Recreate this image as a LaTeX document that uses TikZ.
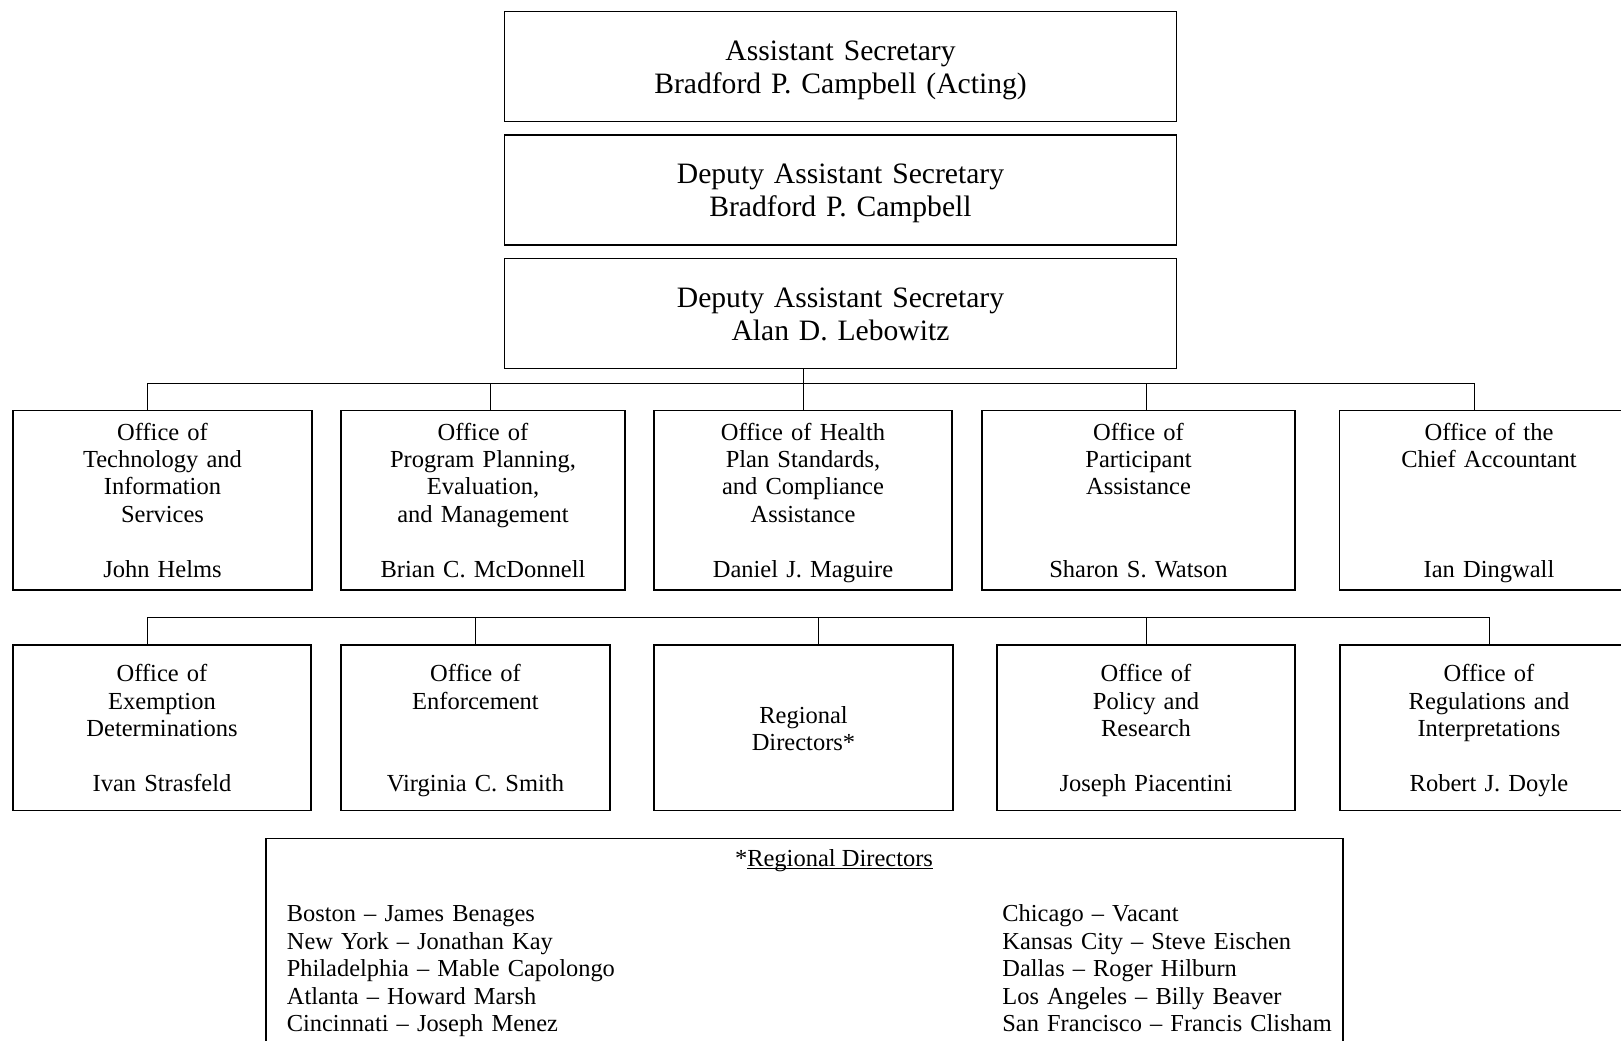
\documentclass[tikz,border=0pt]{standalone}
\usepackage{fontspec}
\setmainfont{Liberation Serif}
\usetikzlibrary{positioning}
\tikzset{
  execbox/.style={draw,line width=0.7pt,inner sep=0pt,outer sep=0pt,
    align=center,text width=336pt,text height=24.4pt,text depth=30.6pt,
    font=\fontsize{14.8pt}{16.35pt}\selectfont},
  officebox/.style={draw,line width=0.7pt,inner sep=0pt,outer sep=0pt,
    align=center,text height=14.65pt,text depth=75pt,
    font=\fontsize{12.25pt}{13.7pt}\selectfont},
  lowbox/.style={officebox,text height=18.35pt,text depth=64.5pt},
  bus/.style={line width=0.5pt},
  notebox/.style={draw,line width=0.7pt,inner sep=0pt,outer sep=0pt,
    minimum width=538.4pt,minimum height=130pt},
  notehead/.style={inner sep=0pt,font=\fontsize{12.25pt}{13.7pt}\selectfont},
  notelist/.style={inner sep=0pt,align=left,text width=200pt,
    font=\fontsize{12.2pt}{13.75pt}\selectfont},
}
\begin{document}
\begin{tikzpicture}[x=0.5pt,y=-0.5pt]
  \useasboundingbox (0,0) rectangle (1621,1040);
  \clip (0,0) rectangle (1621,1040);
  \node[execbox,anchor=north] (sec) at (840.5,11.7)
    {Assistant Secretary\\Bradford P. Campbell (Acting)};
  \node[execbox,below=6.7pt of sec] (dep1)
    {Deputy Assistant Secretary\\Bradford P. Campbell};
  \node[execbox,below=6.8pt of dep1] (dep2)
    {Deputy Assistant Secretary\\Alan D. Lebowitz};

  \node[officebox,text width=149.5pt,anchor=north west] (tis) at (13,410.7)
    {Office of\\Technology and\\Information\\Services\\[\baselineskip]John Helms};
  \node[officebox,text width=142pt,right=14.5pt of tis] (ppe)
    {Office of\\Program Planning,\\Evaluation,\\and Management\\[\baselineskip]Brian C. McDonnell};
  \node[officebox,text width=149pt,right=14.5pt of ppe] (hp)
    {Office of Health\\Plan Standards,\\and Compliance\\Assistance\\[\baselineskip]Daniel J. Maguire};
  \node[officebox,text width=156.5pt,right=15pt of hp] (pa)
    {Office of\\Participant\\Assistance\\[2\baselineskip]Sharon S. Watson};
  \node[officebox,text width=149.5pt,right=22.25pt of pa] (ca)
    {Office of the\\Chief Accountant\\[3\baselineskip]Ian Dingwall};

  \node[lowbox,text width=149pt,anchor=north west] (ed) at (13,645)
    {Office of\\Exemption\\Determinations\\[\baselineskip]Ivan Strasfeld};
  \node[lowbox,text width=134.5pt,right=15pt of ed] (enf)
    {Office of\\Enforcement\\[2\baselineskip]Virginia C. Smith};
  \node[lowbox,text width=149.5pt,text height=39.25pt,text depth=43.6pt,
    right=22pt of enf] (rd) {Regional\\Directors*};
  \node[lowbox,text width=149pt,right=22pt of rd] (pr)
    {Office of\\Policy and\\Research\\[\baselineskip]Joseph Piacentini};
  \node[lowbox,text width=149pt,right=22.5pt of pr] (ri)
    {Office of\\Regulations and\\Interpretations\\[\baselineskip]Robert J. Doyle};

  \foreach \n/\x in {tis/147.5,ppe/490.6,hp/803,pa/1146,ca/1474}
    \coordinate (t-\n) at (\x,383);
  \foreach \n/\x in {ed/147.5,enf/475,rd/818.3,pr/1146,ri/1489}
    \coordinate (t-\n) at (\x,617.3);
  \draw[bus] (t-tis) -- (t-ca);
  \draw[bus] (t-ed) -- (t-ri);
  \draw[bus] (hp.north |- dep2.south) -- (hp.north);
  \foreach \n in {tis,ppe,pa,ca,ed,enf,rd,pr,ri}
    \draw[bus] (t-\n) -- (t-\n |- \n.north);

  \node[notebox,anchor=north west] (notes) at (266,838.3) {};
  \node[notehead,anchor=base] (nhead) at ([shift={(568,27.7)}]notes.north west)
    {*\underline{\smash{Regional Directors}}};
  \node[notelist,anchor=base west] (westreg) at ([shift={(20.5,83.4)}]notes.north west)
    {Boston – James Benages\\New York – Jonathan Kay\\Philadelphia – Mable Capolongo\\
     Atlanta – Howard Marsh\\Cincinnati – Joseph Menez};
  \node[notelist,anchor=base west] (eastreg) at ([shift={(736,83.4)}]notes.north west)
    {Chicago – Vacant\\Kansas City – Steve Eischen\\Dallas – Roger Hilburn\\
     Los Angeles – Billy Beaver\\San Francisco – Francis Clisham};
\end{tikzpicture}
\end{document}
